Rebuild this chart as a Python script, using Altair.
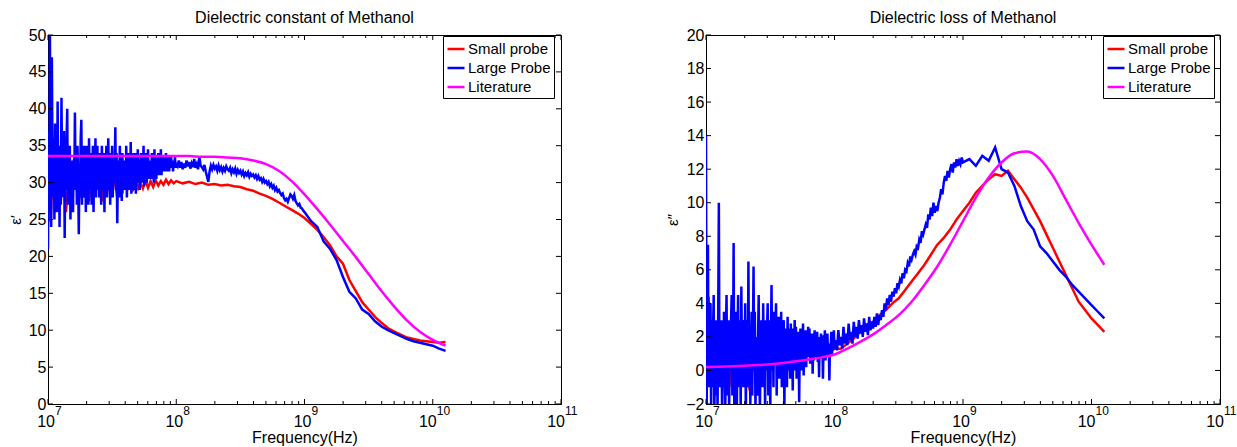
import altair as alt
import pandas as pd

# ---------------- sampling grids (log10 of frequency in Hz) ----------------
LOGF_BLUE = ([round(7 + 0.005 * i, 3) for i in range(201)]
             + [round(8.01 + 0.01 * i, 2) for i in range(100)]
             + [round(9.05 + 0.05 * i, 2) for i in range(22)])
LOGF_RED = ([round(7 + 0.02 * i, 2) for i in range(51)]
            + [round(8.05 + 0.05 * i, 2) for i in range(42)])
LOGF_LIT = [round(7 + 0.1 * i, 1) for i in range(32)]

SERIES = ["Small probe", "Large Probe", "Literature"]
COLORS = ["#ff0000", "#0000ff", "#ff00ff"]

# ---------------- Dielectric constant (left panel) ----------------
BLUE_EPS1 = [
    21, 37, 26, 50, 30, 24, 47, 33, 28, 36, 25, 38, 29, 33, 26, 41, 30, 35, 24, 33,
    27, 41.5, 31, 36, 28, 37, 22.5, 33, 29, 36, 40, 27, 34, 30, 35, 25, 32, 29, 33, 26,
    33, 30, 39.5, 29, 34, 27, 35, 31, 23, 32, 28, 36, 38.5, 27, 33, 30, 35, 28, 34, 26,
    35, 30, 33, 27, 36, 29, 32, 34, 27, 31, 35, 26, 33, 30, 36, 28, 32, 35, 29, 33,
    28, 34, 30, 27, 35, 31, 29, 34, 26, 33, 30, 35, 28, 32, 36, 29, 33, 27, 34, 30,
    35, 28, 33, 30, 32, 37.5, 29, 34, 24.5, 31, 33, 28, 35, 30, 32, 27.5, 34, 30, 33, 29,
    33, 29.5, 35, 28, 32, 34, 29, 33, 30, 35.5, 28.5, 32, 34, 29, 33, 31, 34, 28.5, 33, 30,
    34.5, 30, 33, 29, 32.5, 34, 30, 33, 31, 35, 29.5, 33, 31, 34, 30, 32.5, 34.5, 30.5, 33, 31,
    33, 30.5, 34, 31, 33, 30, 34.5, 31.5, 33, 30.5, 33.5, 32, 34, 31, 33, 31.5, 34.5, 31, 33, 32,
    33.5, 31.5, 33, 32, 34, 31.5, 33, 32.5, 33.5, 31.5, 33, 32, 33.5, 32, 33, 31.5, 33, 32.5, 33.5, 32,
    32.5,
    32.2, 33, 32, 32.8, 31.8, 32.6, 32, 33, 32.2, 32.8,
    31.9, 32.6, 32.1, 33.2, 32, 32.5, 31.8, 33.5, 32.3, 32.1,
    31.8, 32.4, 31.5, 30.8, 30.1, 31.5, 32.3, 31.8, 32.4, 31.9,
    32.2, 31.6, 32.3, 31.7, 32.1, 31.5, 32.0, 31.6, 32.2, 31.8,
    31.6, 32.0, 31.3, 31.8, 31.4, 31.9, 31.2, 31.7, 31.3, 31.6,
    31.1, 31.5, 30.9, 31.3, 31.0, 31.4, 30.8, 31.2, 30.9, 31.1,
    30.7, 31.0, 30.5, 30.9, 30.4, 30.6, 30.1, 30.5, 30.0, 30.2,
    29.8, 30.1, 29.5, 29.8, 29.3, 29.6, 29.0, 29.3, 28.8, 29.0,
    28.6, 28.3, 28.5, 27.9, 27.6, 27.8, 27.4, 27.9, 28.4, 28.2,
    27.8, 28.3, 27.5, 27.2, 26.9, 27.1, 26.6, 26.5, 26.2, 26.0,
    24.8, 24.0, 22.0, 21.0, 19.5, 17.2, 15.2, 14.3, 12.8, 12.2,
    11.2, 10.5, 10.0, 9.6, 9.2, 8.8, 8.5, 8.3, 8.1, 7.9,
    7.5, 7.2,
]
RED_EPS1 = [
    28, 24.7, 33, 26, 31, 27.5, 32, 26, 30, 28,
    33, 34.2, 27.5, 31, 28, 32, 27.5, 31, 28.5, 31.5,
    29, 27.5, 30.5, 28.5, 31, 29, 30.5, 28, 30.5, 28.5,
    31, 29, 30.5, 28.8, 31.5, 29, 30, 29.2, 30.3, 29.3,
    30.2, 29.4, 30.3, 29.6, 30.2, 29.7, 30.4, 29.8, 30.3, 29.9,
    30.2,
    29.9, 30.1, 29.8, 30.0, 29.7, 29.8, 29.6, 29.7, 29.5, 29.4,
    29.1, 28.9, 28.5, 28.2, 27.8, 27.3, 26.8, 26.3, 25.8, 25.2,
    24.4, 23.6, 22.6, 21.5, 20.0, 19.0, 16.8, 15.3, 13.8, 12.8,
    11.8, 11.0, 10.3, 9.8, 9.4, 9.0, 8.8, 8.6, 8.5, 8.4,
    8.3, 8.4,
]
LIT_EPS1 = [
    33.6, 33.6, 33.6, 33.6, 33.6, 33.6, 33.6, 33.6, 33.6, 33.6,
    33.6, 33.6, 33.5, 33.5, 33.4, 33.3, 33.0, 32.5, 31.6, 30.2,
    28.4, 26.4, 24.3, 22.1, 19.9, 17.6, 15.3, 13.2, 11.3, 9.8,
    8.7, 7.9,
]

# ---------------- Dielectric loss (right panel) ----------------
BLUE_EPS2 = [
    14, -2.5, 3, 7.5, -1, 2, 0, 4, -2.5, 3, -1, 2.5, 4.5, -2.5, 1, 3, -1.5, 2, -2.5, 3.5,
    10, -1, 2.5, 0.5, 3, -2.5, 2, -1, 3.5, 0, -2.5, 2.5, 4.5, -1.5, 1.5, 3, -2.5, 2, 0, 3,
    4.5, -1.5, 1, 7.6, -2, 2.5, 0, 3.5, -2.5, 2, 4.5, -1, 1.5, 3, -2.5, 5, 0.5, 2, -1, 3,
    0, 4, -2.5, 2, 3, -1, 6.5, 0.5, 2.5, -2, 1.5, 3.5, -1.5, 2, 6.2, 0, 3.5, -2.5, 2, 1,
    -1.5, 2, 4.5, 0, -2.5, 3, 1, 2.5, -1, 4, 0.5, 2, -2.5, 3, 0, 2.5, 4, -1.5, 1.5, 3,
    -2.5, 2, 5.1, 0, 2.5, -1, 3.5, 0.5, 2, 4, -1.5, 2.5, 0, 3.2, -0.5, 2, 1, 3.5, -1, 2,
    1, 3, -2.2, 2.5, 0.5, 2, -1, 3.2, 0, 2.5, 1, -0.5, 2.8, 0.5, 2, -1.2, 2.5, 0.5, 3, 0,
    2.6, -0.5, 2, 0.5, 2.3, -1.9, 1.5, 2.5, 0, 2, 0.8, 2.8, -0.3, 1.8, 0.5, 2.4, 0.2, 2, 1, 2.6,
    0.8, 2.5, 0.4, 2, 1, 2.2, -0.2, 1.8, 0.6, 2.4, 0.8, 2, 1.2, 2.3, 0.5, 1.8, -0.4, 2, 1, 2.2,
    0.8, 2.1, -0.5, 1.6, 1.2, 2.4, 0.6, 1.8, 1.1, 2.2, 0.8, 1.6, -0.6, 1.5, 1.2, 2.3, 0.9, 1.7, 1.2, 2.4,
    1.3,
    1.8, 1.2, 2.4, 1.5, 2.0, 1.3, 2.6, 1.6, 2.2, 1.5,
    2.8, 1.8, 2.3, 1.6, 2.9, 2.0, 2.6, 1.9, 3.0, 2.2,
    2.7, 2.0, 3.1, 2.3, 2.8, 2.1, 3.2, 2.4, 2.9, 2.5,
    3.2, 2.6, 3.4, 2.7, 3.3, 3.0, 3.6, 3.2, 4.0, 3.6,
    4.3, 3.9, 4.5, 4.1, 4.7, 4.4, 4.9, 4.6, 5.2, 5.0,
    5.4, 5.2, 5.8, 5.5, 6.0, 5.9, 6.4, 6.2, 6.8, 6.6,
    6.9, 7.1, 6.9, 7.4, 7.3, 7.8, 7.6, 8.3, 8.1, 8.4,
    8.7, 8.5, 9.3, 9.0, 9.7, 9.2, 10.0, 9.4, 9.8, 9.5,
    10.0, 10.3, 10.8, 10.5, 11.2, 11.6, 11.3, 11.9, 11.5, 12.0,
    12.3, 11.8, 12.4, 12.1, 12.6, 12.2, 12.5, 12.3, 12.7, 12.4,
    12.6, 12.2, 12.8, 12.5, 13.3, 12.0, 11.8, 11.0, 9.8, 8.9,
    8.4, 7.4, 7.0, 6.5, 6.0, 5.6, 5.1, 4.7, 4.3, 3.9,
    3.5, 3.1,
]
RED_EPS2 = [
    1, 4.4, -0.5, 3, 0, 2.5, -1, 2, 0.3, 1.5,
    -1, 2.5, 0, 2, -0.5, 1.8, 0, -1.2, 2, 0.5,
    1.5, -0.3, 1.7, 0.2, 1.5, 0.5, 1.6, 0.4, 1.4, 0.6,
    1.5, 0.5, 1.3, 0.7, 1.4, 0.7, 1.3, 0.8, 1.2, 0.9,
    1.3, 0.9, 1.2, 1.0, 1.3, 1.0, 1.2, 1.1, 1.3, 1.2,
    1.3,
    1.3, 1.6, 1.9, 2.3, 2.7, 2.9, 3.3, 3.6, 4.0, 4.3,
    4.8, 5.3, 5.8, 6.3, 6.9, 7.5, 7.9, 8.4, 9.0, 9.5,
    10.0, 10.6, 11.0, 11.4, 11.7, 11.6, 11.9, 11.4, 10.9, 10.3,
    9.6, 8.9, 8.1, 7.3, 6.5, 5.7, 4.9, 4.1, 3.6, 3.1,
    2.7, 2.3,
]
LIT_EPS2 = [
    0.2, 0.22, 0.25, 0.28, 0.32, 0.37, 0.45, 0.55, 0.65, 0.78,
    0.95, 1.3, 1.7, 2.15, 2.7, 3.3, 4.1, 5.1, 6.2, 7.5,
    8.9, 10.3, 11.5, 12.4, 12.95, 13.05, 12.6, 11.6, 10.2, 8.8,
    7.5, 6.3,
]

EPS1_TICKS = [0, 5, 10, 15, 20, 25, 30, 35, 40, 45, 50]
EPS2_TICKS = [-2, 0, 2, 4, 6, 8, 10, 12, 14, 16, 18, 20]
X_MAJOR = [1e7, 1e8, 1e9, 1e10, 1e11]
X_MINOR = [k * 10.0 ** e for e in (7, 8, 9, 10) for k in range(2, 10)]
EXP_ONE = ["7", "8", "9"]
EXP_TWO = ["10", "11"]

FONT = "Liberation Sans"
H = 369
LW = 2.5


def make_df(logf, vals, name):
    assert len(logf) == len(vals), (name, len(logf), len(vals))
    return pd.DataFrame({"f": [10 ** x for x in logf], "v": vals, "series": name})


def panel(blue, red, lit, ydomain, yticks, ytitle, title, width, legend_x):
    xscale = alt.Scale(type="log", domain=[1e7, 1e11], nice=False)
    xaxis = alt.Axis(labels=False, ticks=False, grid=False, title="Frequency(Hz)",
                     titlePadding=25, titleFontSize=16, titleFontWeight="normal")
    yaxis = alt.Axis(values=yticks, ticks=False, grid=False, labelPadding=2,
                     labelFontSize=16, title=ytitle, titleFontSize=15,
                     titleFontWeight="normal", titlePadding=5)
    yscale = alt.Scale(domain=ydomain, nice=False, zero=False)
    X = alt.X("f:Q", scale=xscale, axis=xaxis)
    Y = alt.Y("v:Q", scale=yscale, axis=yaxis)
    color = alt.Color(
        "series:N",
        scale=alt.Scale(domain=SERIES, range=COLORS),
        legend=alt.Legend(title=None, orient="none", legendX=legend_x, legendY=1,
                          symbolType="stroke", symbolSize=289, symbolStrokeWidth=2.5,
                          labelFontSize=15, labelFont=FONT, labelColor="black",
                          strokeColor="black", fillColor="white", padding=3,
                          rowPadding=1, labelOffset=2, cornerRadius=0),
    )

    blue_df = make_df(LOGF_BLUE, blue, "Large Probe")
    red_df = make_df(LOGF_RED, red, "Small probe")
    lit_df = make_df(LOGF_LIT, lit, "Literature")

    red_l = alt.Chart(red_df).mark_line(strokeWidth=LW, clip=True).encode(x=X, y=Y, color=color)
    blue_l = alt.Chart(blue_df).mark_line(strokeWidth=LW, clip=True).encode(x=X, y=Y, color=color)
    lit_l = alt.Chart(lit_df).mark_line(strokeWidth=LW, clip=True, interpolate="monotone").encode(
        x=X, y=Y, color=color)

    maj = pd.DataFrame({"f": X_MAJOR})
    mnr = pd.DataFrame({"f": X_MINOR})
    yt = pd.DataFrame({"v": yticks})

    def xtick(df, y0, y1):
        return alt.Chart(df).mark_rule(color="black", strokeWidth=1).encode(
            x=X, y=alt.value(y0), y2=alt.value(y1))

    def ytick(x0, x1):
        return alt.Chart(yt).mark_rule(color="black", strokeWidth=1).encode(
            y=Y, x=alt.value(x0), x2=alt.value(x1))

    ticks = [
        xtick(maj, H, H - 5), xtick(mnr, H, H - 3),
        xtick(maj, 0, 5), xtick(mnr, 0, 3),
        ytick(0, 5), ytick(width, width - 5),
    ]

    lab1 = pd.DataFrame({"f": [1e7, 1e8, 1e9], "base": "10", "e": EXP_ONE})
    lab2 = pd.DataFrame({"f": [1e10, 1e11], "base": "10", "e": EXP_TWO})
    labels = []
    for df, dx in ((lab1, 7), (lab2, 4)):
        labels.append(alt.Chart(df).mark_text(align="right", baseline="middle", dx=dx,
                                              fontSize=16, font=FONT, color="black").encode(
            x=X, y=alt.value(H + 18), text="base:N"))
        labels.append(alt.Chart(df).mark_text(align="left", baseline="middle", dx=dx,
                                              fontSize=12, font=FONT, color="black").encode(
            x=X, y=alt.value(H + 7), text="e:N"))

    return alt.layer(red_l, blue_l, lit_l, *ticks, *labels).properties(
        width=width, height=H, title=title)


left = panel(BLUE_EPS1, RED_EPS1, LIT_EPS1, [0, 50], EPS1_TICKS, "ε′",
             "Dielectric constant of Methanol", 513, 395)
right = panel(BLUE_EPS2, RED_EPS2, LIT_EPS2, [-2, 20], EPS2_TICKS, "ε″",
              "Dielectric loss of Methanol", 514, 397)

chart = (
    alt.hconcat(left, right, spacing=87)
    .resolve_scale(color="independent", x="independent", y="independent")
    .resolve_legend(color="independent")
    .properties(padding={"left": 7, "top": 9, "right": 0, "bottom": 0})
    .configure(font=FONT)
    .configure_view(stroke="black", strokeWidth=1)
    .configure_axis(labelFont=FONT, titleFont=FONT, labelColor="black", titleColor="black",
                    domainColor="black", domainWidth=1)
    .configure_title(font=FONT, fontSize=16, fontWeight="normal", color="black",
                     anchor="middle", offset=1)
)

chart.save("out.html", embed_options={"renderer": "svg", "actions": False})
